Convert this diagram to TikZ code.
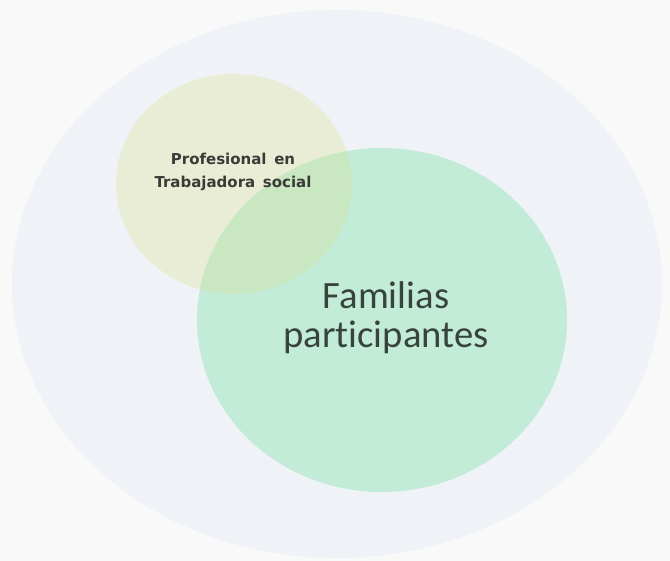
\documentclass[tikz,border=0pt]{standalone}
\usepackage{fontspec}
\newfontfamily\proffont{DejaVu Sans}
\newfontfamily\famfont[Ligatures=NoCommon]{Carlito}
\usetikzlibrary{shapes.geometric}

\definecolor{pagebg}{HTML}{F9F9FA}
\definecolor{outerbg}{HTML}{EFF2F7}
\definecolor{proffill}{HTML}{EAEDD5}
\definecolor{famfill}{HTML}{C3ECD8}
\definecolor{overlapfill}{HTML}{C9E8C1}
\definecolor{proftext}{HTML}{3A3B38}
\definecolor{famtext}{HTML}{37443C}

\begin{document}
\begin{tikzpicture}[x=0.03cm,y=-0.03cm]
    \tikzstyle{set}=[ellipse,draw=none,inner sep=0pt];
    \tikzstyle{setlabel}=[align=center,inner sep=0pt];
    % canvas, 670 x 561 px
    \fill[pagebg] (0,0) rectangle (670,561);
    \useasboundingbox (0,0) rectangle (670,561);

    \node[set,fill=outerbg,minimum width=19.5cm,minimum height=16.44cm] (outer) at (337,284) {};
    \node[set,fill=proffill,minimum width=7.08cm,minimum height=6.6cm] (prof) at (234,184) {};
    \node[set,fill=famfill,minimum width=11.1cm,minimum height=10.32cm] (fam) at (382,320) {};

    % overlap of both sets
    \begin{scope}
      \clip (prof.center) ellipse [x radius=3.54cm, y radius=3.3cm];
      \fill[overlapfill] (fam.center) ellipse [x radius=5.55cm, y radius=5.16cm];
    \end{scope}

    \node[setlabel,text=proftext,font=\proffont\bfseries\fontsize{12.8}{19.5}\selectfont] (proflabel) at (233,172)
      {Profesional \,en\\Trabajadora \,social};
    \node[setlabel,text=famtext,font=\famfont\fontsize{33}{33.5}\selectfont] (famlabel) at (386,318)
      {Familias\\participantes};
\end{tikzpicture}
\end{document}
